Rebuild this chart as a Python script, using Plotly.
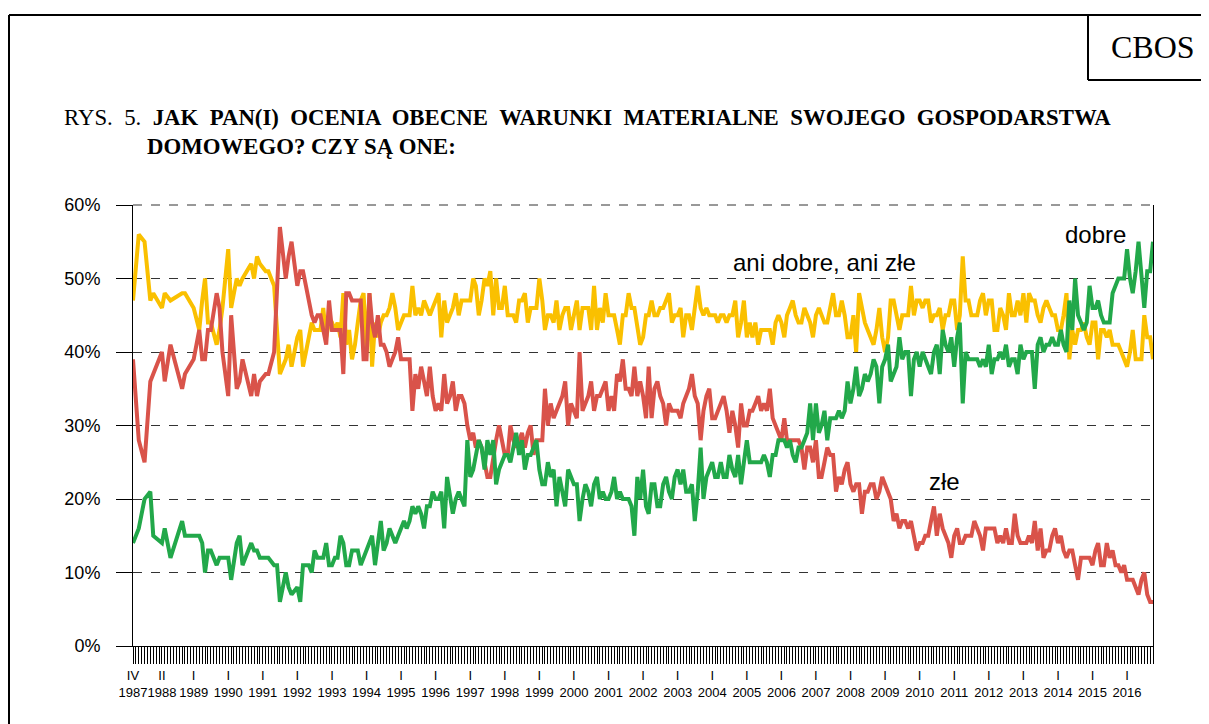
import plotly.graph_objects as go
import pandas as pd

# ---------------- DATA ----------------
# Early, irregular surveys (Apr 1987 - Nov 1991)
early_dates = ["1987-04", "1987-06", "1987-08", "1987-10", "1987-11", "1988-02", "1988-03", "1988-05",
               "1988-09", "1988-10", "1989-01", "1989-03", "1989-04", "1989-05", "1989-06", "1989-07",
               "1989-09", "1989-10", "1989-11", "1990-01", "1990-02", "1990-04", "1990-05", "1990-06",
               "1990-09", "1990-10", "1990-11", "1990-12", "1991-02", "1991-03", "1991-05", "1991-06",
               "1991-07", "1991-09", "1991-10", "1991-11"]
early_dobre = [14, 16, 20, 21, 15, 14, 16, 12, 17, 15, 15, 15, 14, 10, 13, 13, 11, 12, 12, 12, 9, 14,
               15, 11, 14, 13, 13, 12, 12, 12, 11, 11, 6, 10, 8, 7]
early_ani = [47, 56, 55, 47, 48, 46, 48, 47, 48, 48, 46, 43, 47, 50, 44, 44, 41, 43, 46, 54, 46, 50,
             49, 50, 52, 50, 53, 52, 51, 51, 49, 43, 37, 39, 41, 38]
early_zle = [39, 28, 25, 36, 37, 40, 36, 41, 35, 37, 39, 43, 39, 39, 43, 43, 48, 46, 40, 34, 45, 35,
             36, 39, 34, 37, 34, 36, 37, 37, 40, 48, 57, 50, 53, 55]

# Monthly surveys from Jan 1992 to Oct 2016
monthly_start = "1992-01-01"
dobre_monthly = [
    8, 6, 11, 11, 11, 10, 13, 12, 12, 12, 14, 11,      # 1992
    11, 12, 12, 15, 14, 11, 11, 13, 13, 13, 11, 12,    # 1993
    13, 14, 15, 11, 14, 17, 13, 14, 16, 15, 14, 15,    # 1994
    16, 17, 16, 17, 19, 18, 19, 18, 16, 19, 19, 21,    # 1995
    20, 20, 21, 16, 23, 20, 18, 20, 21, 20, 19, 28,    # 1996
    23, 24, 26, 28, 27, 24, 28, 26, 28, 22, 24, 25,    # 1997
    26, 26, 25, 27, 29, 26, 28, 24, 26, 26, 27, 28,    # 1998
    24, 22, 22, 25, 23, 24, 19, 23, 21, 19, 24, 23,    # 1999
    22, 22, 17, 20, 22, 21, 19, 22, 23, 20, 21, 20,    # 2000
    20, 21, 23, 20, 21, 20, 20, 20, 19, 15, 23, 20,    # 2001
    24, 19, 18, 22, 22, 19, 19, 22, 23, 21, 20, 23,    # 2002
    24, 22, 24, 21, 21, 22, 17, 21, 27, 20, 23, 24,    # 2003
    25, 23, 23, 25, 23, 23, 26, 24, 23, 26, 22, 25,    # 2004
    28, 25, 25, 25, 25, 25, 26, 25, 23, 26, 26, 28,    # 2005
    28, 28, 27, 28, 26, 25, 27, 27, 28, 29, 33, 28,    # 2006
    33, 29, 30, 32, 28, 31, 31, 31, 32, 31, 32, 36,    # 2007
    33, 35, 38, 34, 35, 37, 36, 37, 39, 38, 33, 38,    # 2008
    39, 41, 36, 37, 38, 42, 39, 40, 40, 34, 39, 40,    # 2009
    38, 40, 39, 38, 37, 40, 41, 37, 43, 41, 40, 42,    # 2010
    38, 42, 44, 33, 40, 39, 39, 39, 39, 38, 39, 38,    # 2011
    41, 37, 39, 39, 40, 39, 41, 38, 39, 39, 37, 41,    # 2012
    39, 40, 40, 40, 35, 41, 42, 40, 41, 41, 42, 41,    # 2013
    41, 43, 41, 40, 47, 43, 50, 45, 44, 43, 44, 49,    # 2014
    46, 46, 47, 45, 44, 44, 44, 48, 49, 50, 50, 50,    # 2015
    54, 50, 48, 51, 55, 50, 46, 51, 51, 55,            # 2016
]
ani_monthly = [
    42, 43, 38, 40, 42, 44, 43, 43, 43, 46, 42, 44,    # 1992
    44, 43, 44, 42, 48, 41, 43, 39, 41, 44, 47, 48,    # 1993
    40, 48, 38, 44, 42, 44, 45, 45, 46, 48, 46, 43,    # 1994
    44, 45, 45, 45, 49, 45, 46, 45, 47, 46, 45, 46,    # 1995
    47, 48, 42, 47, 44, 45, 46, 48, 45, 47, 47, 47,    # 1996
    47, 50, 49, 45, 47, 50, 49, 51, 45, 50, 46, 46,    # 1997
    49, 45, 45, 45, 44, 47, 47, 48, 44, 46, 46, 46,    # 1998
    50, 47, 43, 45, 45, 44, 47, 43, 45, 46, 46, 43,    # 1999
    45, 47, 43, 46, 46, 46, 43, 49, 43, 46, 44, 48,    # 2000
    45, 45, 45, 43, 41, 45, 45, 48, 46, 46, 43, 41,    # 2001
    42, 45, 45, 47, 45, 45, 46, 46, 47, 48, 44, 45,    # 2002
    45, 46, 42, 45, 45, 43, 46, 49, 46, 45, 46, 45,    # 2003
    45, 45, 44, 45, 45, 44, 45, 45, 47, 42, 44, 47,    # 2004
    42, 44, 42, 44, 41, 43, 43, 43, 43, 41, 44, 45,    # 2005
    44, 42, 45, 46, 47, 45, 44, 44, 46, 45, 44, 42,    # 2006
    45, 46, 45, 44, 44, 46, 48, 45, 45, 47, 45, 42,    # 2007
    42, 45, 40, 48, 46, 44, 43, 42, 41, 43, 46, 42,    # 2008
    40, 42, 47, 47, 45, 43, 45, 45, 45, 49, 45, 47,    # 2009
    47, 46, 47, 47, 44, 45, 45, 46, 43, 45, 45, 47,    # 2010
    47, 43, 45, 53, 47, 47, 45, 45, 45, 47, 48, 45,    # 2011
    47, 47, 43, 43, 46, 45, 43, 48, 45, 45, 47, 45,    # 2012
    48, 44, 48, 47, 47, 45, 44, 46, 47, 46, 45, 45,    # 2013
    43, 43, 45, 48, 39, 43, 41, 43, 43, 44, 42, 41,    # 2014
    44, 44, 39, 43, 43, 42, 43, 41, 41, 41, 40, 39,    # 2015
    38, 40, 43, 39, 39, 39, 45, 42, 42, 39,            # 2016
]
zle_monthly = [
    49, 51, 51, 49, 47, 45, 44, 45, 45, 43, 41, 47,    # 1992
    43, 43, 43, 43, 37, 48, 48, 47, 47, 47, 47, 39,    # 1993
    39, 48, 44, 42, 45, 41, 41, 40, 38, 39, 40, 42,    # 1994
    39, 39, 39, 39, 32, 37, 35, 38, 36, 34, 38, 34,    # 1995
    32, 33, 32, 37, 33, 34, 36, 32, 34, 34, 33, 30,    # 1996
    28, 29, 27, 28, 27, 25, 23, 23, 26, 28, 30, 28,    # 1997
    26, 26, 30, 28, 27, 28, 29, 27, 29, 30, 26, 28,    # 1998
    28, 28, 35, 30, 33, 31, 32, 33, 34, 36, 30, 33,    # 1999
    32, 31, 40, 32, 33, 34, 36, 32, 34, 34, 35, 36,    # 2000
    32, 34, 32, 37, 36, 39, 35, 35, 34, 38, 34, 36,    # 2001
    34, 31, 38, 31, 35, 36, 34, 33, 30, 33, 32, 32,    # 2002
    32, 31, 33, 34, 35, 37, 34, 33, 28, 32, 34, 35,    # 2003
    31, 31, 32, 33, 34, 32, 29, 32, 30, 27, 33, 30,    # 2004
    30, 32, 32, 33, 34, 32, 33, 32, 35, 31, 30, 29,    # 2005
    28, 31, 28, 28, 28, 28, 28, 27, 24, 27, 27, 25,    # 2006
    28, 23, 23, 25, 27, 26, 26, 21, 23, 22, 24, 25,    # 2007
    22, 21, 22, 22, 18, 21, 21, 22, 22, 20, 21, 23,    # 2008
    22, 21, 20, 17, 18, 16, 17, 17, 16, 17, 15, 13,    # 2009
    14, 14, 15, 15, 17, 19, 15, 18, 16, 15, 14, 12,    # 2010
    15, 16, 14, 14, 15, 15, 15, 17, 16, 15, 13, 16,    # 2011
    16, 16, 16, 14, 15, 14, 16, 14, 14, 18, 15, 14,    # 2012
    14, 14, 15, 14, 17, 13, 16, 12, 13, 13, 15, 16,    # 2013
    14, 15, 13, 12, 13, 13, 11, 9, 12, 12, 12, 12,     # 2014
    11, 13, 14, 11, 11, 14, 12, 13, 11, 11, 10, 11,    # 2015
    9, 9, 9, 8, 7, 9, 10, 7, 6, 6,                     # 2016
]

tick_dates = ["1987-04-01", "1988-02-01"] + [f"{y}-01-01" for y in range(1989, 2017)]
tick_months = ["IV", "II"] + ["I"] * (2017 - 1989)
tick_years = [str(y) for y in range(1987, 2017)]

series_names = ["ani dobre, ani złe", "złe", "dobre"]
series_colors = ["#FAC000", "#D9534A", "#22A84A"]

# ---------------- BUILD ----------------
monthly_dates = pd.date_range(monthly_start, periods=len(dobre_monthly), freq="MS")
early_dt = pd.to_datetime([d + "-01" for d in early_dates])
x_all = list(early_dt) + list(monthly_dates)

values = {
    "ani dobre, ani złe": early_ani + ani_monthly,
    "złe": early_zle + zle_monthly,
    "dobre": early_dobre + dobre_monthly,
}

fig = go.Figure()
for name, color in zip(series_names, series_colors):
    fig.add_trace(go.Scatter(x=x_all, y=values[name], mode="lines", name=name,
                             line=dict(color=color, width=4), showlegend=False))

# page is offset by the 8px body margin
OFF = 8
W, H = 1209 - OFF, 724 - OFF
L, R, T, B = 133, 1153, 205, 646   # plot area in page pixels


def px(x):
    return (x - L) / (R - L)


def py(y):
    return (B - y) / (B - T)


sans = "Liberation Sans, Arial, sans-serif"
serif = "Liberation Serif, Times New Roman, serif"

fig.update_layout(
    width=W, height=H,
    margin=dict(l=L - OFF, r=W - (R - OFF), t=T - OFF, b=H - (B - OFF), pad=0),
    paper_bgcolor="white", plot_bgcolor="white",
    font=dict(family=sans, color="black"),
)

fig.update_xaxes(
    type="date",
    range=[x_all[0], x_all[-1]],
    tickmode="array",
    tickvals=tick_dates,
    ticktext=[f"{m}<br>{y}" for m, y in zip(tick_months, tick_years)],
    ticks="outside", ticklen=17, tickwidth=1, tickcolor="black",
    minor=dict(ticks="outside", ticklen=17, tickwidth=1, tickcolor="black",
               dtick="M1", tick0="1987-04-01", showgrid=False),
    showgrid=False, showline=True, linecolor="black", linewidth=1,
    tickfont=dict(size=13, family=sans, color="black"),
    tickangle=0,
)
fig.update_yaxes(
    range=[0, 60], tickmode="linear", tick0=0, dtick=10, ticksuffix="%",
    showgrid=True, gridcolor="#333333", griddash="dash", gridwidth=1,
    zeroline=False, showline=True, linecolor="black", linewidth=1, mirror=True,
    ticks="outside", ticklen=16, tickcolor="black", ticklabelstandoff=12,
    tickfont=dict(size=18, family=sans, color="black"),
)

# frame and CBOS box
shapes = [
    dict(type="line", xref="paper", yref="paper", x0=px(9), x1=px(1215), y0=py(15), y1=py(15),
         line=dict(color="black", width=2)),
    dict(type="line", xref="paper", yref="paper", x0=px(9), x1=px(9), y0=py(15), y1=py(730),
         line=dict(color="black", width=2)),
    dict(type="line", xref="paper", yref="paper", x0=px(1088), x1=px(1088), y0=py(15), y1=py(80),
         line=dict(color="black", width=2)),
    dict(type="line", xref="paper", yref="paper", x0=px(1088), x1=px(1215), y0=py(80), y1=py(80),
         line=dict(color="black", width=2)),
    dict(type="line", xref="paper", yref="paper", x0=0, x1=1, y0=1, y1=1,
         line=dict(color="#333333", width=1, dash="dash")),
]
fig.update_layout(shapes=shapes)

# first title line is justified in the original: slightly wider word gaps
title_line1 = "RYS. 5. <b>JAK PAN(I) OCENIA OBECNE WARUNKI MATERIALNE SWOJEGO GOSPODARSTWA</b>"
title_line1 = title_line1.replace(" ", " \u00a0")
title_line2 = "<b>DOMOWEGO? CZY SĄ ONE:</b>"

annotations = [
    dict(text="CBOS", x=px(1153), y=py(47), xref="paper", yref="paper", showarrow=False,
         font=dict(family=serif, size=32, color="black"), xanchor="center", yanchor="middle"),
    dict(text=title_line1,
         x=px(62), y=py(117), xref="paper", yref="paper", showarrow=False,
         font=dict(family=serif, size=22.8, color="black"), xanchor="left", yanchor="middle"),
    dict(text=title_line2,
         x=px(145), y=py(147), xref="paper", yref="paper", showarrow=False,
         font=dict(family=serif, size=22.8, color="black"), xanchor="left", yanchor="middle"),
    dict(text="ani dobre, ani złe", x=px(824), y=py(262), xref="paper", yref="paper",
         showarrow=False, font=dict(family=sans, size=24, color="black"),
         xanchor="center", yanchor="middle"),
    dict(text="dobre", x=px(1095), y=py(234), xref="paper", yref="paper",
         showarrow=False, font=dict(family=sans, size=24, color="black"),
         xanchor="center", yanchor="middle"),
    dict(text="złe", x=px(944), y=py(481), xref="paper", yref="paper",
         showarrow=False, font=dict(family=sans, size=24, color="black"),
         xanchor="center", yanchor="middle"),
]
fig.update_layout(annotations=annotations)

fig.write_html("out.html")
